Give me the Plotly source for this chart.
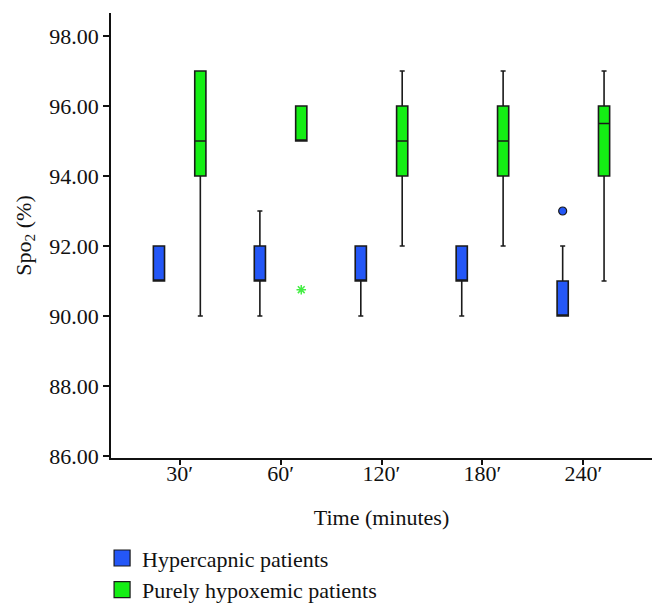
import plotly.graph_objects as go

times = ["30′", "60′", "120′", "180′", "240′"]

hyper_lower = [91, 90, 90, 90, 90]
hyper_q1 = [91, 91, 91, 91, 90]
hyper_median = [91, 91, 91, 91, 90]
hyper_q3 = [92, 92, 92, 92, 91]
hyper_upper = [92, 93, 92, 92, 92]
hyper_outlier = [None, None, None, None, 93]

hypo_lower = [90, 95, 92, 92, 91]
hypo_q1 = [94, 95, 94, 94, 94]
hypo_median = [95, 95, 95, 95, 95.5]
hypo_q3 = [97, 96, 96, 96, 96]
hypo_upper = [97, 96, 97, 97, 97]
hypo_outlier = [None, 90.75, None, None, None]

BLUE = "#2457f7"
GREEN = "#14ee14"
FONT = "Liberation Serif"
FS = 22

fig = go.Figure()
fig.add_trace(go.Box(
    x=times,
    q1=hyper_q1, median=hyper_median, q3=hyper_q3,
    lowerfence=hyper_lower, upperfence=hyper_upper,
    name="Hypercapnic patients", showlegend=False, offsetgroup="a",
    fillcolor=BLUE, line=dict(color="#1a1a1a", width=1.6),
    whiskerwidth=0.45, boxpoints=False,
))
fig.add_trace(go.Box(
    x=times,
    q1=hypo_q1, median=hypo_median, q3=hypo_q3,
    lowerfence=hypo_lower, upperfence=hypo_upper,
    name="Purely hypoxemic patients", showlegend=False, offsetgroup="b",
    fillcolor=GREEN, line=dict(color="#1a1a1a", width=1.6),
    whiskerwidth=0.45, boxpoints=False,
))
# outliers, grouped at the same offsets as the boxes
fig.add_trace(go.Scatter(
    x=times, y=hyper_outlier, mode="markers", offsetgroup="a",
    showlegend=False, hoverinfo="y",
    marker=dict(color=BLUE, size=8, symbol="circle",
                line=dict(color="#1a1a1a", width=1.2)),
))
fig.add_trace(go.Scatter(
    x=times, y=hypo_outlier, mode="markers", offsetgroup="b",
    showlegend=False, hoverinfo="y",
    marker=dict(color="#44ee44", size=8, symbol="asterisk-open",
                line=dict(color="#44ee44", width=1.5)),
))
# legend entries
for nm, col in [("Hypercapnic patients", BLUE), ("Purely hypoxemic patients", GREEN)]:
    fig.add_trace(go.Scatter(
        x=[None], y=[None], mode="markers", name=nm,
        marker=dict(symbol="square", size=16, color=col,
                    line=dict(color="#1a1a1a", width=1.2)),
    ))

fig.update_layout(
    width=650, height=613,
    paper_bgcolor="white", plot_bgcolor="white",
    margin=dict(l=103, r=6, t=5, b=163),
    boxmode="group", boxgap=0.18, boxgroupgap=0.73,
    scattermode="group", scattergap=0.18,
    font=dict(family=FONT, size=FS, color="#111111"),
    showlegend=True,
    legend=dict(x=-0.0165, y=-0.178, xanchor="left", yanchor="top",
                font=dict(family=FONT, size=FS, color="#111111"),
                bgcolor="rgba(0,0,0,0)", tracegroupgap=0, itemwidth=30),
)
fig.update_xaxes(
    type="category", categoryorder="array", categoryarray=times,
    range=[-0.68, 4.68], automargin=False,
    showline=True, linecolor="#111111", linewidth=1.5,
    ticks="outside", ticklen=5, tickwidth=1.5, tickcolor="#111111",
    showgrid=False, zeroline=False, ticklabelstandoff=-10,
    title=dict(text="Time (minutes)", font=dict(family=FONT, size=FS), standoff=24),
    tickfont=dict(family=FONT, size=FS),
)
fig.update_yaxes(
    range=[85.94, 98.66], dtick=2, tick0=86, tickformat=".2f", automargin=False,
    showline=True, linecolor="#111111", linewidth=1.5,
    ticks="outside", ticklen=6, tickwidth=1.5, tickcolor="#111111",
    showgrid=False, zeroline=False,
    title=dict(text="Spo<sub>2</sub> (%)", font=dict(family=FONT, size=FS), standoff=12),
    tickfont=dict(family=FONT, size=FS),
)

fig.write_html("out.html")
